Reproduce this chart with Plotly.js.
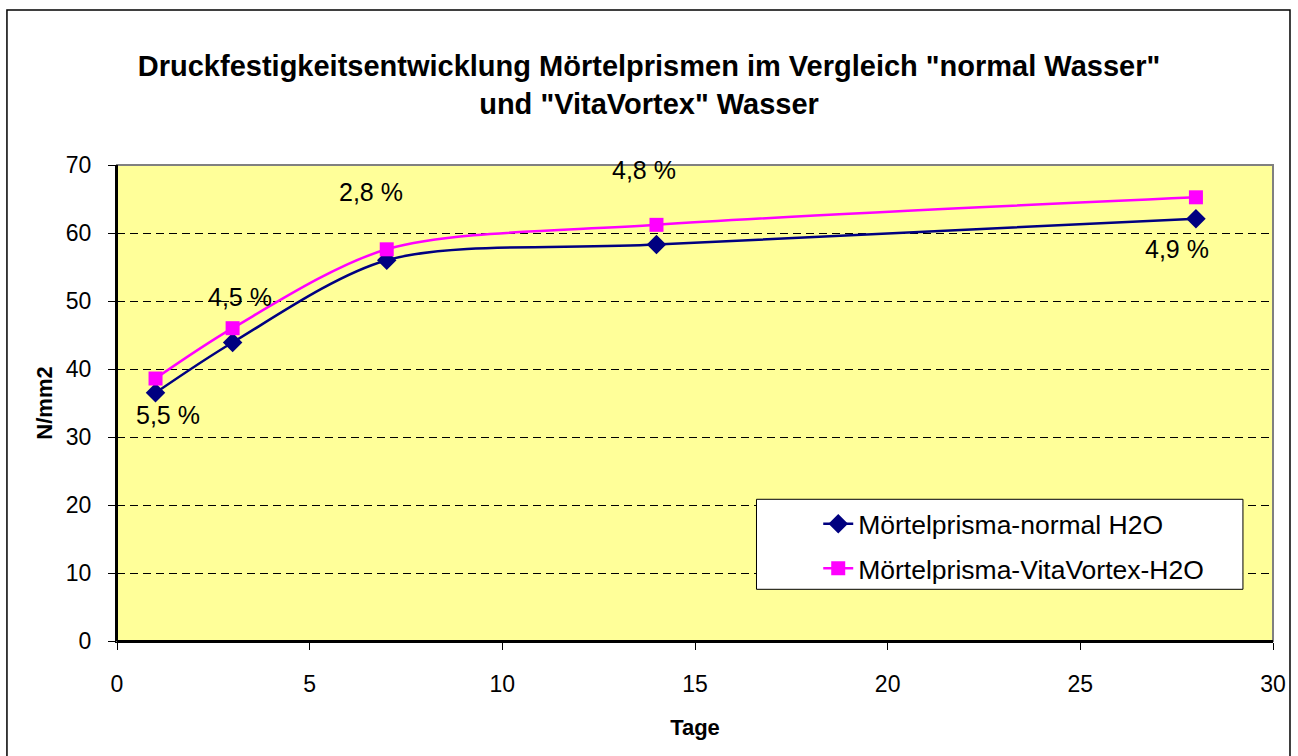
<!DOCTYPE html>
<html>
<head>
<meta charset="utf-8">
<script src="https://cdn.plot.ly/plotly-3.0.1.min.js"></script>
<style>html,body{margin:0;padding:0;background:#fff;}#chart{width:1298px;height:756px;}</style>
</head>
<body>
<div id="chart"></div>
<script>
// ---- data ----
const days = [1, 3, 7, 14, 28];
const normalH2O = [36.5, 43.9, 56.0, 58.3, 62.1];
const vitaH2O = [38.6, 46.0, 57.6, 61.2, 65.25];
const seriesNames = ["Mörtelprisma-normal H2O", "Mörtelprisma-VitaVortex-H2O"];
const pctLabels = ["5,5 %", "4,5 %", "2,8 %", "4,8 %", "4,9 %"];
const xTicks = [0, 5, 10, 15, 20, 25, 30];
const yTicks = [0, 10, 20, 30, 40, 50, 60, 70];
const titleText = 'Druckfestigkeitsentwicklung Mörtelprismen im Vergleich "normal Wasser"<br>und "VitaVortex" Wasser';
const xTitle = "Tage";
const yTitle = "N/mm2";

const FONT = "Arial, 'Liberation Sans', sans-serif";

const traces = [
  {
    x: days, y: normalH2O, name: seriesNames[0], type: "scatter", mode: "lines+markers",
    line: {color: "#000080", width: 2.5, shape: "spline", smoothing: 0.85},
    marker: {symbol: "diamond", size: 15, color: "#000080"},
    legendgroup: "a"
  },
  {
    x: days, y: vitaH2O, name: seriesNames[1], type: "scatter", mode: "lines+markers",
    line: {color: "#FF00FF", width: 2.5, shape: "spline", smoothing: 0.85},
    marker: {symbol: "square", size: 14, color: "#FF00FF"},
    legendgroup: "b"
  }
];

// label placement: which series anchors each label, and pixel offsets
const labelAnchor = ["n", "v", "v", "v", "n"];
const labelShift = [[12, -22], [7, 31], [-16, 57], [-12, 55], [-19, -30]];
const annotations = pctLabels.map((t, i) => ({
  x: days[i], y: labelAnchor[i] === "n" ? normalH2O[i] : vitaH2O[i],
  xref: "x", yref: "y", text: t, showarrow: false,
  xshift: labelShift[i][0], yshift: labelShift[i][1],
  font: {family: FONT, size: 25, color: "#000"}
}));

const layout = {
  width: 1298, height: 756,
  paper_bgcolor: "#ffffff", plot_bgcolor: "#FFFF99",
  margin: {l: 117, r: 25, t: 165, b: 115, autoexpand: false},
  font: {family: FONT, color: "#000"},
  title: {
    text: "<b>" + titleText + "</b>", x: 0.5, xref: "container",
    y: 1 - 76 / 756, yref: "container", yanchor: "middle",
    font: {family: FONT, size: 29, color: "#000"}
  },
  xaxis: {
    range: [0, 30], tickvals: xTicks, ticktext: xTicks.map(String),
    ticks: "outside", ticklen: 7, tickwidth: 1, tickcolor: "#000",
    showline: true, linecolor: "#000", linewidth: 2,
    showgrid: false, zeroline: false,
    tickfont: {family: FONT, size: 23}, ticklabelstandoff: 14,
    title: {text: "<b>" + xTitle + "</b>", font: {family: FONT, size: 22}, standoff: 24},
    automargin: false, fixedrange: true
  },
  yaxis: {
    range: [0, 70], tickvals: yTicks, ticktext: yTicks.map(String),
    ticks: "outside", ticklen: 7, tickwidth: 1, tickcolor: "#000",
    showline: true, linecolor: "#000", linewidth: 2,
    showgrid: true, gridcolor: "#000", gridwidth: 1, griddash: "8px,5px",
    zeroline: false,
    tickfont: {family: FONT, size: 23}, ticklabelstandoff: 12,
    title: {text: "<b>" + yTitle + "</b>", font: {family: FONT, size: 22}, standoff: 7},
    automargin: false, fixedrange: true
  },
  showlegend: true,
  legend: {
    x: 0.6066, y: 0.296, xanchor: "left", yanchor: "top",
    bgcolor: "rgba(0,0,0,0)", borderwidth: 0,
    font: {family: FONT, size: 26.5, color: "#000"},
    tracegroupgap: 7, traceorder: "grouped"
  },
  annotations: annotations,
  shapes: [
    {type: "rect", xref: "paper", yref: "paper", x0: 0, x1: 1, y0: 0, y1: 1,
     line: {color: "#808080", width: 2}, layer: "above"},
    {type: "line", xref: "paper", yref: "paper", x0: 0, x1: 0, y0: 0, y1: 1,
     line: {color: "#000", width: 2}, layer: "above"},
    {type: "line", xref: "paper", yref: "paper", x0: 0, x1: 1, y0: 0, y1: 0,
     line: {color: "#000", width: 2}, layer: "above"},
    {type: "rect", xref: "paper", yref: "paper", x0: 0.5532, x1: 0.9740, y0: 0.1086, y1: 0.2977,
     fillcolor: "#ffffff", line: {color: "#000", width: 1}, layer: "above"},
    {type: "rect", xref: "paper", yref: "paper", x0: -0.0952, x1: 1.0147, y0: -0.26, y1: 1.3256,
     line: {color: "#000", width: 1.5}, layer: "above"}
  ]
};

Plotly.newPlot("chart", traces, layout, {displayModeBar: false, staticPlot: true});
</script>
</body>
</html>
